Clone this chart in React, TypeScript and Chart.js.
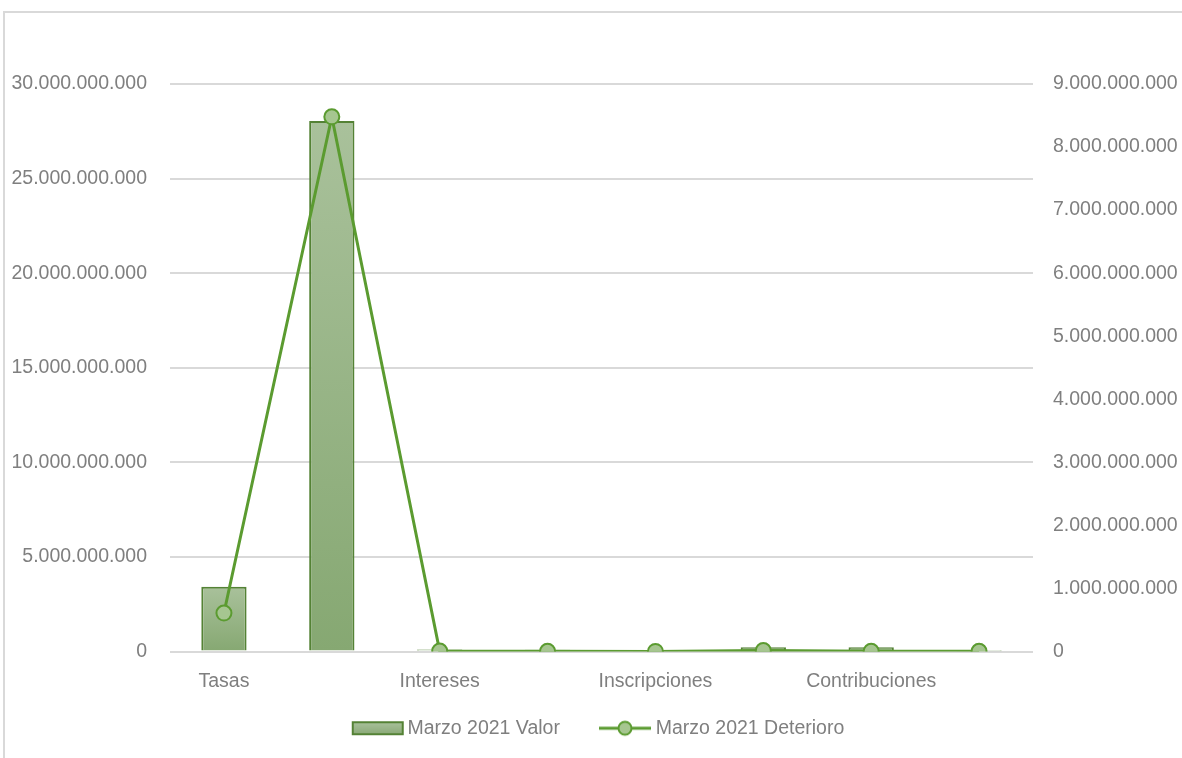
import React, { useEffect, useRef } from "react";
import { Chart, registerables } from "chart.js";

Chart.register(...registerables);

const categories = [
  "Tasas",
  "Impuestos",
  "Intereses",
  "Sanciones",
  "Inscripciones",
  "Multas",
  "Contribuciones",
  "Otros",
];
const valorMarzo2021 = [3.42e9, 28.05e9, 0.1e9, 0.09e9, 0.01e9, 0.23e9, 0.23e9, 0.01e9];
const deterioroMarzo2021 = [0.61e9, 8.48e9, 0.006e9, 0.004e9, 0.001e9, 0.015e9, 0.003e9, 0.002e9];
const seriesNames = ["Marzo 2021 Valor", "Marzo 2021 Deterioro"];
const leftMax = 30e9;
const leftStep = 5e9;
const rightMax = 9e9;
const rightStep = 1e9;

const TEXT = "#7F7F7F";
const GRID = "#D9D9D9";
const BAR_BORDER = "#548235";
const LINE = "#5B9B30";
const POINT_FILL = "#A6C690";
const FONT = "'Liberation Sans', Arial, sans-serif";
const FS = 19.5;

// legend symbol geometry (canvas images used as Chart.js point styles)
const LEG_BOX = 76;
const LEG_W = 90;
const LEG_TEXT = LEG_BOX + FS / 2 + (LEG_W - LEG_BOX) / 2; // text start in image coords

function fmt(v: number): string {
  return String(Math.round(v)).replace(/\B(?=(\d{3})+(?!\d))/g, ".");
}

function makeBarLegendImage(): HTMLCanvasElement {
  const c = document.createElement("canvas");
  c.width = LEG_W;
  c.height = 16;
  const x = c.getContext("2d")!;
  const x0 = Math.round(LEG_TEXT - 55);
  const g = x.createLinearGradient(0, 2, 0, 14);
  g.addColorStop(0, "#A9C19B");
  g.addColorStop(1, "#8BAA78");
  x.fillStyle = g;
  x.fillRect(x0, 2, 50, 12);
  x.strokeStyle = BAR_BORDER;
  x.lineWidth = 2;
  x.strokeRect(x0, 2, 50, 12);
  return c;
}

function makeLineLegendImage(): HTMLCanvasElement {
  const c = document.createElement("canvas");
  c.width = LEG_W;
  c.height = 18;
  const x = c.getContext("2d")!;
  const x0 = Math.round(LEG_TEXT - 57);
  x.strokeStyle = LINE;
  x.lineWidth = 3;
  x.beginPath();
  x.moveTo(x0, 9);
  x.lineTo(x0 + 52, 9);
  x.stroke();
  x.beginPath();
  x.arc(x0 + 26, 9, 6.5, 0, Math.PI * 2);
  x.fillStyle = POINT_FILL;
  x.fill();
  x.lineWidth = 2;
  x.strokeStyle = LINE;
  x.stroke();
  return c;
}

export default function App() {
  const ref = useRef<HTMLCanvasElement>(null);

  useEffect(() => {
    if (!ref.current) return;
    const barImg = makeBarLegendImage();
    const lineImg = makeLineLegendImage();

    const chart = new Chart(ref.current, {
      type: "bar",
      data: {
        labels: categories,
        datasets: [
          {
            type: "line",
            label: seriesNames[1],
            data: deterioroMarzo2021,
            yAxisID: "y1",
            borderColor: LINE,
            borderWidth: 3,
            backgroundColor: POINT_FILL,
            pointBackgroundColor: POINT_FILL,
            pointBorderColor: LINE,
            pointBorderWidth: 2,
            pointRadius: 7.5,
            tension: 0,
            order: 0,
          } as any,
          {
            type: "bar",
            label: seriesNames[0],
            data: valorMarzo2021,
            yAxisID: "y",
            borderColor: BAR_BORDER,
            borderWidth: 2,
            backgroundColor: (ctx: any) => {
              const chart = ctx.chart;
              const sc = chart.scales && chart.scales.y;
              if (ctx.type !== "data" || !sc) return "#98B588";
              const top = sc.getPixelForValue(ctx.raw);
              const bottom = sc.getPixelForValue(0);
              if (!isFinite(top) || !isFinite(bottom) || bottom - top < 1) return "#98B588";
              const g = chart.ctx.createLinearGradient(0, top, 0, bottom);
              g.addColorStop(0, "#A9C19B");
              g.addColorStop(1, "#86A872");
              return g;
            },
            categoryPercentage: 1,
            barPercentage: 0.42,
            order: 1,
          } as any,
        ],
      },
      options: {
        responsive: false,
        animation: false,
        devicePixelRatio: 1,
        layout: { padding: { top: 84, left: -16, right: 0, bottom: 10 } },
        plugins: {
          tooltip: { enabled: false },
          legend: {
            position: "bottom",
            labels: {
              usePointStyle: true,
              pointStyleWidth: LEG_BOX,
              boxHeight: 14,
              padding: 10,
              color: TEXT,
              font: { family: FONT, size: FS },
              generateLabels: () => [
                {
                  text: seriesNames[0],
                  pointStyle: barImg,
                  fontColor: TEXT,
                  datasetIndex: 1,
                  hidden: false,
                  lineWidth: 0,
                } as any,
                {
                  text: seriesNames[1],
                  pointStyle: lineImg,
                  fontColor: TEXT,
                  datasetIndex: 0,
                  hidden: false,
                  lineWidth: 0,
                } as any,
              ],
            },
          },
        },
        scales: {
          x: {
            grid: { display: false, drawTicks: false },
            border: { display: false },
            ticks: {
              color: TEXT,
              font: { family: FONT, size: FS },
              padding: 18,
              autoSkip: false,
              maxRotation: 0,
              callback: (_v: any, i: number) => (i % 2 === 0 ? categories[i] : ""),
            },
            afterFit: (s: any) => {
              s.height = 57;
            },
          },
          y: {
            position: "left",
            min: 0,
            max: leftMax,
            grid: { color: GRID, lineWidth: 2, drawTicks: false },
            border: { display: false },
            ticks: {
              stepSize: leftStep,
              color: TEXT,
              font: { family: FONT, size: FS },
              padding: 23,
              callback: (v: any) => fmt(Number(v)),
            },
            afterFit: (s: any) => {
              s.width = 186;
            },
          },
          y1: {
            position: "right",
            min: 0,
            max: rightMax,
            grid: { display: false, drawTicks: false },
            border: { display: false },
            ticks: {
              stepSize: rightStep,
              color: TEXT,
              font: { family: FONT, size: FS },
              padding: 20,
              callback: (v: any) => fmt(Number(v)),
            },
            afterFit: (s: any) => {
              s.width = 149;
            },
          },
        },
      },
    });
    return () => chart.destroy();
  }, []);

  return (
    <div style={{ position: "fixed", left: 0, top: 0, width: 1182, height: 758, background: "#fff", overflow: "hidden" }}>
      <div
        style={{
          position: "absolute",
          left: 3,
          top: 11,
          width: 1400,
          height: 1000,
          borderTop: `2px solid ${GRID}`,
          borderLeft: `2px solid ${GRID}`,
        }}
      />
      <canvas ref={ref} width={1182} height={758} style={{ position: "absolute", left: 0, top: 0, width: 1182, height: 758 }} />
    </div>
  );
}
